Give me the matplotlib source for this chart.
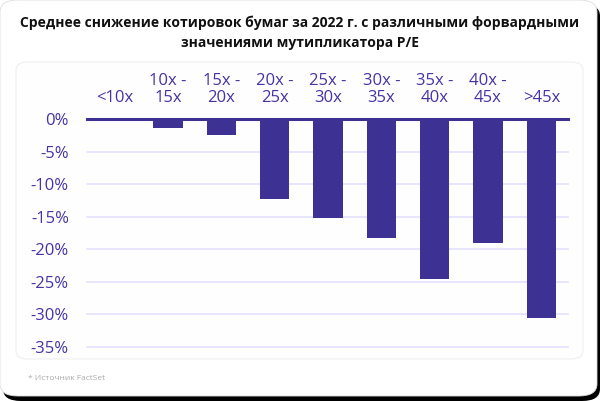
import matplotlib
matplotlib.use("Agg")
import matplotlib.pyplot as plt
from matplotlib.patches import FancyBboxPatch

plt.rcParams['font.family'] = ['Open Sans', 'DejaVu Sans']

# data
categories = ["<10x", "10x -\n15x", "15x -\n20x", "20x -\n25x", "25x -\n30x",
              "30x -\n35x", "35x -\n40x", "40x -\n45x", ">45x"]
decline = [0.0, -1.4, -2.4, -12.3, -15.2, -18.3, -24.5, -19.1, -30.6]
yticks = [0, -5, -10, -15, -20, -25, -30, -35]

bar_col = "#3d3194"
txt_col = "#4434a6"
grid_col = "#e4e0ff"

W, H = 600, 401
fig = plt.figure(figsize=(W / 100, H / 100), dpi=100)
fig.patch.set_facecolor("white")

def px(x, y, w, h):
    # pixel box (top-left origin) -> figure fraction
    return (x / W, 1 - (y + h) / H, w / W, h / H)

# card with dark shadow on right/bottom
x0, y0, w0, h0 = px(3, 4, 597, 397)
fig.patches.append(FancyBboxPatch((x0, y0), w0, h0, boxstyle="round,pad=0,rounding_size=0.03",
                                  transform=fig.transFigure, facecolor="black", edgecolor="none", zorder=0))
x0, y0, w0, h0 = px(0, 0, 597, 396)
fig.patches.append(FancyBboxPatch((x0, y0), w0, h0, boxstyle="round,pad=0,rounding_size=0.03",
                                  transform=fig.transFigure, facecolor="white", edgecolor="#dddddd",
                                  linewidth=0.6, zorder=1))
# inner panel
x0, y0, w0, h0 = px(16, 62, 567, 297)
fig.patches.append(FancyBboxPatch((x0, y0), w0, h0, boxstyle="round,pad=0,rounding_size=0.02",
                                  transform=fig.transFigure, facecolor="#fefefe", edgecolor="#efefef",
                                  linewidth=0.8, zorder=2))

fig.text(0.5, 1 - 33 / H, "Среднее снижение котировок бумаг за 2022 г. с различными форвардными\nзначениями мутипликатора P/E",
         ha="center", va="center", fontsize=10, fontweight="bold", color="#111111",
         linespacing=1.5, zorder=3)
fig.text(28 / W, 1 - 379 / H, "* Источник FactSet", ha="left", va="center",
         fontsize=6, color="#aaaaaa", zorder=3)

ax = fig.add_axes(px(87, 119, 481, 228))
ax.set_zorder(5)
ax.patch.set_alpha(0)
xs = list(range(len(categories)))
ax.bar(xs, decline, width=0.55, color=bar_col, zorder=3)
ax.set_xlim(-0.52, 8.5)
ax.set_ylim(-35, 0)
ax.set_yticks(yticks)
ax.set_yticklabels([f"{v}%" for v in yticks])
for v in yticks[1:]:
    ax.axhline(v, color=grid_col, linewidth=1.2, zorder=1, clip_on=False)
ax.axhline(0, color=bar_col, linewidth=2.2, zorder=4, clip_on=False)

ax.xaxis.tick_top()
ax.set_xticks(xs)
ax.set_xticklabels(categories, linespacing=1.15)
ax.tick_params(axis="x", length=0, pad=9, labelsize=12, labelcolor=txt_col)
ax.tick_params(axis="y", length=0, pad=13, labelsize=12, labelcolor=txt_col)
for s in ax.spines.values():
    s.set_visible(False)

fig.savefig("out.png", dpi=100)
